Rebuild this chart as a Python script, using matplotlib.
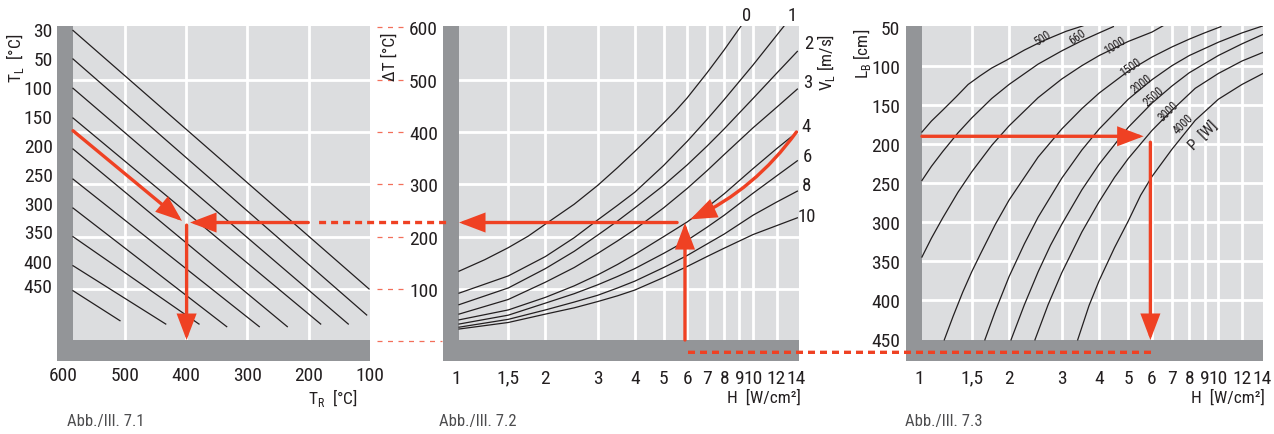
import matplotlib
matplotlib.use('Agg')
import matplotlib.pyplot as plt
from matplotlib import font_manager as fm
from matplotlib.patches import Rectangle, FancyArrowPatch, ConnectionPatch
from matplotlib.ticker import NullFormatter


def pick_font():
    # the original uses a condensed grotesque; take the narrowest one installed
    entries = fm.fontManager.ttflist
    for fam in ['Liberation Sans Narrow', 'Roboto Condensed', 'Open Sans Condensed',
                'Noto Sans Condensed', 'DejaVu Sans Condensed']:
        if any(e.name == fam for e in entries):
            return fam, 'normal'
    for fam in ['DejaVu Sans', 'Noto Sans', 'Open Sans', 'Roboto']:
        if any(e.name == fam and e.stretch in ('condensed', 'semi-condensed') for e in entries):
            return fam, 'condensed'
    return None, 'normal'


FAMILY, STRETCH = pick_font()
if FAMILY:
    plt.rcParams['font.family'] = [FAMILY, 'Liberation Sans', 'DejaVu Sans']
    plt.rcParams['font.stretch'] = STRETCH
    TICK_FS = 14
else:
    plt.rcParams['font.family'] = ['Liberation Sans', 'DejaVu Sans']
    TICK_FS = 12.5

W, H = 1274, 435
LIGHT = '#dcdddf'
DARK = '#939598'
RED = '#ef4123'
INK = '#231f20'

# ---------------- Abb. 7.1 : T_R / T_L -> delta T
tr_ticks = [600, 500, 400, 300, 200, 100]
tl_labels = [30, 50, 100, 150, 200, 250, 300, 350, 400, 450]
tl_label_pos = [597, 542, 486, 431, 376, 320, 265, 210, 154, 107]   # on the dT scale
tl_tr_start = [584.2, 584.2, 584.2, 584.2, 584.2, 584.2, 584.2, 584.2, 584.2, 584.2]
tl_dt_start = [594, 539.5, 483.5, 426.7, 367.5, 310, 254.7, 200, 144.5, 96.7]
tl_tr_end = [101.5, 105.4, 135.4, 180.4, 234.8, 280.5, 333.6, 378.8, 433, 507.6]
tl_dt_end = [100, 50.3, 33, 33, 28, 28, 28, 33, 33, 39.4]

# ---------------- Abb. 7.2 : H -> delta T for air speed v_L
dt_ticks = [100, 200, 300, 400, 500, 600]
h_ticks = [1, 1.5, 2, 3, 4, 5, 6, 7, 8, 9, 10, 12, 14]
h_labels = ['1', '1,5', '2', '3', '4', '5', '6', '7', '8', '9', '10', '12', '14']
h_grid = [1.5, 2, 3, 4, 5, 6, 7, 8, 9, 10, 12]
v_names = ['0', '1', '2', '3', '4', '6', '8', '10']
h_full = [1.0235, 1.5, 2, 2.5, 3, 3.5, 4, 5, 6, 7, 8, 10, 12, 14.1]
h_v = [
    [1.0235, 1.25, 1.5, 1.75, 2, 2.5, 3, 3.5, 4, 4.5, 5, 5.5, 6, 7, 8, 9.1],
    [1.0235, 1.5, 2, 2.5, 3, 3.5, 4, 5, 6, 7, 8, 10, 12.7],
    h_full, h_full, h_full, h_full, h_full, h_full,
]
dt_v = [
    [134, 156, 179, 201, 224, 262, 298, 332, 363, 391, 417, 441, 465, 513, 557, 602],
    [92, 125, 162, 198, 232, 260, 285, 336, 382, 424, 462, 528, 602],
    [70, 102, 139, 172, 203, 230, 255, 298, 337, 373, 406, 464, 512, 554],
    [52, 80, 113, 141, 168, 192, 214, 255, 292, 326, 357, 408, 447, 482],
    [41, 60, 84, 106, 127, 147, 166, 200, 228, 256, 282, 330, 368, 400],
    [33, 50, 73, 91, 108, 124, 139, 168, 193, 218, 241, 283, 316, 345],
    [27, 42, 60, 75, 88, 102, 115, 141, 164, 186, 205, 241, 266, 287],
    [23.5, 36, 52, 64, 76, 87, 98, 122, 143, 162, 178, 204, 221, 236],
]

# ---------------- Abb. 7.3 : H -> heated length L_B for power P
lb_ticks = [50, 100, 150, 200, 250, 300, 350, 400, 450]
lb_grid = [100, 150, 200, 250, 300, 350, 400]
p_names = ['500', '660', '1000', '1500', '2000', '2500', '3000', '4000']
h_p = [
    [1.023, 1.1, 1.2, 1.33, 1.46, 1.6, 1.75, 1.96, 2.25, 2.54, 2.8, 3.1, 3.53],
    [1.023, 1.1, 1.2, 1.35, 1.5, 1.75, 2, 2.5, 3, 3.5, 4, 4.46],
    [1.023, 1.1, 1.2, 1.35, 1.5, 1.75, 2, 2.5, 3, 3.5, 4, 5, 6, 6.53],
    [1.215, 1.3, 1.4, 1.5, 1.6, 1.8, 2, 2.5, 3, 3.5, 4, 5, 6, 7, 8, 9, 10.2],
    [1.66, 1.8, 2, 2.25, 2.5, 3, 3.5, 4, 5, 6, 7, 8, 10, 12, 14.1],
    [2.03, 2.25, 2.5, 2.75, 3, 3.5, 4, 5, 6, 7, 8, 10, 12, 14.1],
    [2.44, 2.7, 3, 3.5, 4, 4.5, 5, 6, 7, 8.37, 10, 12, 14.1],
    [3.39, 3.7, 4, 4.5, 5, 5.5, 6, 7, 8.37, 10, 12, 14.1],
]
lb_p = [
    [185, 171, 157, 140, 124, 113, 103, 93, 80, 70, 63, 56, 49],
    [247, 229, 210, 186, 167, 142, 124, 98, 81, 68, 58, 50],
    [345, 321, 295, 262, 236, 202, 177, 141, 117, 100, 87, 69, 57, 49],
    [451, 421, 390, 364, 342, 303, 272, 217, 181, 155, 135, 107, 89, 76, 66, 58, 50],
    [451, 414, 370, 328, 294, 244, 208, 181, 143, 118, 100, 87, 70, 58, 49],
    [451, 406, 364, 330, 303, 259, 226, 179, 148, 126, 109, 87, 72, 60],
    [451, 406, 365, 313, 274, 243, 219, 183, 157, 129, 110, 94, 83],
    [451, 407, 375, 333, 299, 266, 242, 207, 170, 143, 124, 110],
]

# worked example (red path)
ex1_diag_tr, ex1_diag_dt = [584.2, 406.5], [402.4, 230]
ex1_hor_tr, ex_dt = [200.6, 393.4], 227
ex1_ver_tr, ex1_ver_dt = 399, [222, 2.5]
ex1_dot_tr = 183
ex2_hor_h = [5.55, 1.0235]
ex2_ver_h, ex2_ver_dt = 5.9, [2.5, 226]
ex2_cur_h, ex2_cur_dt = [14.0, 6.15], [400, 233]
ex3_hor_h, ex3_lb = [1.023, 5.63], 190.4
ex3_ver_h, ex3_ver_lb = 5.93, [198, 451.2]


def fpos(x, y):
    return x / W, 1 - y / H


def make_axes(x0, x1, y0=27, y1=362):
    ax = fig.add_axes([x0 / W, 1 - y1 / H, (x1 - x0) / W, (y1 - y0) / H])
    ax.set_facecolor(LIGHT)
    for s in ax.spines.values():
        s.set_visible(False)
    ax.set_axisbelow(True)
    ax.xaxis.remove_overlapping_locs = False
    ax.yaxis.remove_overlapping_locs = False
    ax.add_patch(Rectangle((0, 0), 16 / (x1 - x0), 1, transform=ax.transAxes,
                           color=DARK, lw=0, zorder=1))
    ax.add_patch(Rectangle((0, 0), 1, 21 / (y1 - y0), transform=ax.transAxes,
                           color=DARK, lw=0, zorder=1))
    return ax


def finish_axes(ax):
    ax.tick_params(which='both', length=0, labelsize=TICK_FS, colors=INK)
    ax.grid(which='minor', color='white', lw=2.0)
    ax.grid(which='major', visible=False)


def arrow(ax, p0, p1, rad=0.0):
    ax.add_patch(FancyArrowPatch(p0, p1, transform=ax.transData,
                                 arrowstyle='-|>,head_length=1.45,head_width=0.55',
                                 mutation_scale=10, lw=2.4, color=RED,
                                 shrinkA=0, shrinkB=0, joinstyle='miter',
                                 connectionstyle=f'arc3,rad={rad}',
                                 clip_on=False, zorder=5))


fig = plt.figure(figsize=(W / 100, H / 100), dpi=100)

# ---- panel 1
ax1 = make_axes(57, 370)
ax1.set_xlim(610.3, 100)
ax1.set_ylim(-37.6, 602.5)
ax1.set_xticks(tr_ticks, [str(t) for t in tr_ticks])
ax1.set_yticks(tl_label_pos, [str(t) for t in tl_labels])
ax1.set_xticks([500, 400, 300, 200], minor=True)
ax1.set_yticks([100, 200, 300, 400, 500], minor=True)
finish_axes(ax1)
ax1.tick_params(axis='x', pad=3.6)
ax1.tick_params(axis='y', pad=3.2)
for i in range(len(tl_labels)):
    ax1.plot([tl_tr_start[i], tl_tr_end[i]], [tl_dt_start[i], tl_dt_end[i]],
             color=INK, lw=0.9, zorder=2)
arrow(ax1, (ex1_diag_tr[0], ex1_diag_dt[0]), (ex1_diag_tr[1], ex1_diag_dt[1]))
arrow(ax1, (ex1_hor_tr[0], ex_dt), (ex1_hor_tr[1], ex_dt))
arrow(ax1, (ex1_ver_tr, ex1_ver_dt[0]), (ex1_ver_tr, ex1_ver_dt[1]))

# ---- panel 2
ax2 = make_axes(443, 799)
ax2.set_xscale('log')
ax2.set_xlim(0.904, 14.28)
ax2.set_ylim(-37.6, 602.5)
ax2.set_xticks(h_ticks, h_labels)
ax2.set_xticks(h_grid, minor=True)
ax2.xaxis.set_minor_formatter(NullFormatter())
ax2.set_yticks(dt_ticks, [str(t) for t in dt_ticks])
ax2.set_yticks([100, 200, 300, 400, 500], minor=True)
finish_axes(ax2)
ax2.tick_params(axis='x', pad=5.5)
ax2.tick_params(axis='y', pad=3.6)
for hs, ds in zip(h_v, dt_v):
    ax2.plot(hs, ds, color=INK, lw=0.9, zorder=2)
# red dashed tick marks of the dT scale
for v in [0] + dt_ticks:
    ax2.plot([-0.185, -0.003 if v == 0 else -0.112], [v, v],
             transform=ax2.get_yaxis_transform(), color='#f36f5a', lw=0.9,
             linestyle=(0, (4, 4.4)), clip_on=False, zorder=3)
arrow(ax2, (ex2_hor_h[0], ex_dt), (ex2_hor_h[1], ex_dt))
arrow(ax2, (ex2_ver_h, ex2_ver_dt[0]), (ex2_ver_h, ex2_ver_dt[1]))
arrow(ax2, (ex2_cur_h[0], ex2_cur_dt[0]), (ex2_cur_h[1], ex2_cur_dt[1]), rad=-0.13)

# ---- panel 3
ax3 = make_axes(906, 1263)
ax3.set_xscale('log')
ax3.set_xlim(0.905, 14.1)
ax3.set_ylim(478.1, 49.2)
ax3.set_xticks(h_ticks, h_labels)
ax3.set_xticks(h_grid, minor=True)
ax3.xaxis.set_minor_formatter(NullFormatter())
ax3.set_yticks(lb_ticks, [str(t) for t in lb_ticks])
ax3.set_yticks(lb_grid, minor=True)
finish_axes(ax3)
ax3.tick_params(axis='x', pad=5.5)
ax3.tick_params(axis='y', pad=4.3)
for hs, ls in zip(h_p, lb_p):
    ax3.plot(hs, ls, color=INK, lw=0.9, zorder=2)
arrow(ax3, (ex3_hor_h[0], ex3_lb), (ex3_hor_h[1], ex3_lb))
arrow(ax3, (ex3_ver_h, ex3_ver_lb[0]), (ex3_ver_h, ex3_ver_lb[1]))

# dotted connections between the panels
dots = dict(color=RED, lw=2.4, linestyle=(0, (2.1, 1.5)), capstyle='butt', zorder=6)
fig.add_artist(ConnectionPatch(xyA=(ex1_dot_tr, ex_dt), coordsA=ax1.transData,
                               xyB=(0.954, ex_dt), coordsB=ax2.transData, **dots))
fig.add_artist(ConnectionPatch(xyA=(6.04, -21), coordsA=ax2.transData,
                               xyB=(6.01, 467), coordsB=ax3.transData, **dots))

# ---- texts
tk = dict(color=INK)
fig.text(*fpos(15, 58), 'T$_\\mathregular{L}$  [°C]', rotation=90, ha='center', va='center', fontsize=12.5, **tk)
fig.text(*fpos(358, 398), 'T$_\\mathregular{R}$  [°C]', ha='right', va='center', fontsize=12.5, **tk)
fig.text(*fpos(390, 57), 'ΔT [°C]', rotation=90, ha='center', va='center', fontsize=12.5, **tk)
fig.text(*fpos(801, 398), 'H  [W/cm²]', ha='right', va='center', fontsize=12.5, **tk)
fig.text(*fpos(1265, 398), 'H  [W/cm²]', ha='right', va='center', fontsize=12.5, **tk)
fig.text(*fpos(862, 54), 'L$_\\mathregular{B}$ [cm]', rotation=90, ha='center', va='center', fontsize=12.5, **tk)
fig.text(*fpos(826, 62), 'V$_\\mathregular{L}$ [m/s]', rotation=90, ha='center', va='center', fontsize=12.5, **tk)
for x, lab in [(67, '7.1'), (439, '7.2'), (905, '7.3')]:
    fig.text(*fpos(x, 422), 'Abb./Ill. ' + lab, ha='left', va='center', fontsize=12, color='#4d4d4f')

v_pos = [(746.7, 16), (791.7, 16), (809, 44), (807.7, 83), (806, 127), (807.7, 157), (806.7, 186), (806.7, 217)]
for (x, y), name in zip(v_pos, v_names):
    fig.text(*fpos(x, y), name, ha='center', va='center', fontsize=13.5, **tk)

p_pos = [(1042.3, 38.3, 33), (1077.3, 36.7, 35), (1115, 45.7, 33), (1130.7, 67.3, 35),
         (1141.7, 84, 38), (1153.3, 96.7, 42), (1168.7, 111.7, 44), (1183.7, 124, 45)]
for (x, y, r), name in zip(p_pos, p_names):
    fig.text(*fpos(x, y), name, ha='center', va='center', rotation=r, fontsize=8.5, **tk)
fig.text(*fpos(1204, 136.7), 'P  [W]', ha='center', va='center', rotation=45, fontsize=11, **tk)

fig.savefig('out.png', dpi=100)
